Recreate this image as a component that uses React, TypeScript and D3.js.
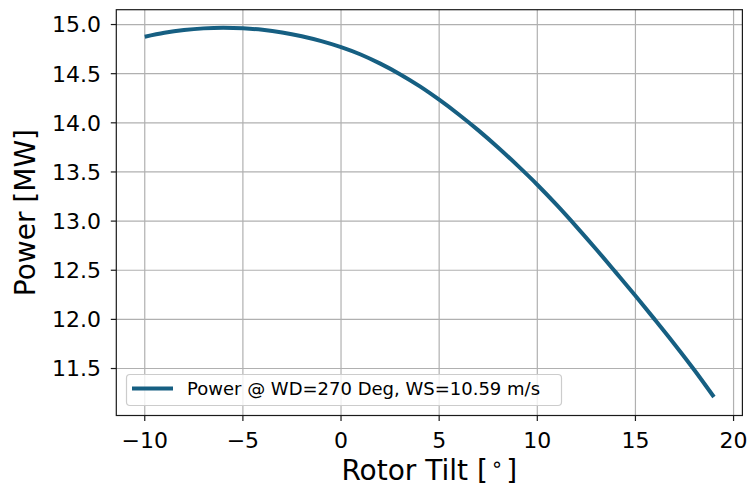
import React from "react";
import * as d3 from "d3";

const tilt = [-10, -9, -8, -7, -6, -5, -4, -3, -2, -1, 0, 1, 2, 3, 4, 5, 6, 7, 8, 9, 10, 11, 12, 13, 14, 15, 16, 17, 18, 19];
const power = [
  14.876, 14.916, 14.944, 14.961, 14.967, 14.962, 14.947, 14.92, 14.881, 14.831,
  14.77, 14.695, 14.602, 14.495, 14.373, 14.235, 14.085, 13.923, 13.749, 13.564,
  13.37, 13.162, 12.942, 12.714, 12.478, 12.24, 11.995, 11.745, 11.485, 11.21,
];
const xTicks = [-10, -5, 0, 5, 10, 15, 20];
const yTicks = [11.5, 12.0, 12.5, 13.0, 13.5, 14.0, 14.5, 15.0];
const seriesLabel = "Power @ WD=270 Deg, WS=10.59 m/s";
const xLabelMain = "Rotor Tilt [";
const xLabelDeg = "∘";
const xLabelEnd = "]";
const yLabel = "Power [MW]";

const W = 750;
const H = 487;
const L = 116.3, R = 742.4, T = 9.7, B = 415.5;
const FONT = "DejaVu Sans, sans-serif";
const LINE = "#165f82";

export default function App() {
  const x = d3.scaleLinear().domain([-11.45, 20.45]).range([L, R]);
  const y = d3.scaleLinear().domain([11.022, 15.151]).range([B, T]);
  const line = d3
    .line<number>()
    .x((_, i) => x(tilt[i]))
    .y((d) => y(d))
    .curve(d3.curveMonotoneX);
  const fmtX = d3.format("d");
  const fmtY = d3.format(".1f");

  return (
    <svg
      width={W}
      height={H}
      style={{ position: "absolute", left: 0, top: 0, background: "#fff" }}
      fontFamily={FONT}
    >
      <rect x={0} y={0} width={W} height={H} fill="#fff" />
      <defs>
        <clipPath id="ax">
          <rect x={L} y={T} width={R - L} height={B - T} />
        </clipPath>
      </defs>
      {/* grid */}
      <g stroke="#b0b0b0" strokeWidth={1.2}>
        {xTicks.map((t) => (
          <line key={"gx" + t} x1={x(t)} x2={x(t)} y1={T} y2={B} />
        ))}
        {yTicks.map((t) => (
          <line key={"gy" + t} x1={L} x2={R} y1={y(t)} y2={y(t)} />
        ))}
      </g>
      {/* series */}
      <path
        d={line(power) || ""}
        fill="none"
        stroke={LINE}
        strokeWidth={4}
        strokeLinecap="butt"
        strokeLinejoin="round"
        clipPath="url(#ax)"
      />
      {/* spines */}
      <rect x={L} y={T} width={R - L} height={B - T} fill="none" stroke="#1a1a1a" strokeWidth={1.2} />
      {/* x ticks */}
      <g>
        {xTicks.map((t) => (
          <g key={"xt" + t}>
            <line x1={x(t)} x2={x(t)} y1={B} y2={B + 5.5} stroke="#1a1a1a" strokeWidth={1.2} />
            <text x={x(t)} y={448.3} textAnchor="middle" fontSize={22} fill="#000">
              {fmtX(t)}
            </text>
          </g>
        ))}
      </g>
      {/* y ticks */}
      <g>
        {yTicks.map((t) => (
          <g key={"yt" + t}>
            <line x1={L - 5.5} x2={L} y1={y(t)} y2={y(t)} stroke="#1a1a1a" strokeWidth={1.2} />
            <text x={101} y={y(t)} dy="0.36em" textAnchor="end" fontSize={22} fill="#000">
              {fmtY(t)}
            </text>
          </g>
        ))}
      </g>
      {/* axis labels */}
      <text x={(L + R) / 2} y={480} textAnchor="middle" fontSize={28} fill="#000">
        {xLabelMain}
        <tspan dx={3} dy={-9} fontSize={20}>{xLabelDeg}</tspan>
        <tspan dx={3} dy={9}>{xLabelEnd}</tspan>
      </text>
      <text
        transform={`translate(35,${(T + B) / 2}) rotate(-90)`}
        textAnchor="middle"
        fontSize={28}
        fill="#000"
      >
        {yLabel}
      </text>
      {/* legend */}
      <g>
        <rect
          x={126.5}
          y={374.5}
          width={435}
          height={31}
          rx={3.5}
          fill="#fff"
          fillOpacity={0.8}
          stroke="#cccccc"
          strokeWidth={1.2}
        />
        <line x1={132} x2={173} y1={388.5} y2={388.5} stroke={LINE} strokeWidth={4} />
        <text x={187} y={394.5} fontSize={18} fill="#000">
          {seriesLabel}
        </text>
      </g>
    </svg>
  );
}
